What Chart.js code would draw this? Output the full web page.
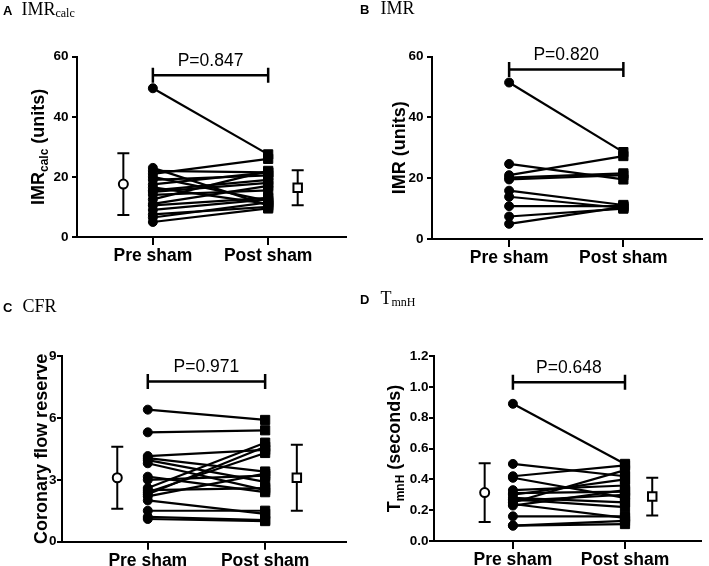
<!DOCTYPE html>
<html>
<head>
<meta charset="utf-8">
<script src="https://cdn.jsdelivr.net/npm/chart.js@4.4.1/dist/chart.umd.min.js"></script>
<style>
  body { margin: 0; background: #fff; }
  #page { position: relative; width: 709px; height: 566px; background: #fff; }
  canvas { position: absolute; }
</style>
</head>
<body>
<div id="page">
  <canvas id="cA" width="354" height="283" style="left:0;top:0"></canvas>
  <canvas id="cB" width="354" height="283" style="left:355px;top:0"></canvas>
  <canvas id="cC" width="354" height="283" style="left:0;top:283px"></canvas>
  <canvas id="cD" width="354" height="283" style="left:355px;top:283px"></canvas>
</div>
<script>
//x categories
const groups = ["Pre sham", "Post sham"];
//paired values, one entry per subject
const imrCalcPre = [49.5, 23.0, 22.0, 21.0, 20.0, 19.0, 17.5, 16.5, 15.5, 15.0, 14.0, 12.5, 11.0, 10.5, 9.0, 7.5, 6.5, 5.0];
const imrCalcPost = [27.5, 10.5, 21.5, 26.0, 12.0, 20.5, 21.5, 11.0, 19.0, 18.0, 15.5, 22.0, 17.0, 13.0, 12.5, 10.0, 11.5, 9.5];
const imrPre = [51.5, 24.7, 21.0, 20.2, 19.6, 15.9, 13.9, 10.8, 7.4, 5.0];
const imrPost = [28.6, 19.6, 27.3, 21.6, 21.0, 11.2, 10.2, 10.8, 10.0, 10.6];
const cfrPre = [6.4, 5.3, 4.15, 4.05, 3.95, 3.8, 3.15, 3.0, 2.6, 2.5, 2.4, 2.3, 2.2, 2.0, 1.5, 1.2, 1.1];
const cfrPost = [5.9, 5.4, 4.45, 3.4, 2.9, 2.5, 2.4, 3.2, 4.8, 2.6, 4.3, 4.6, 3.3, 1.35, 1.5, 1.05, 1.0];
const tmnhPre = [0.89, 0.50, 0.42, 0.41, 0.33, 0.31, 0.30, 0.28, 0.27, 0.26, 0.25, 0.24, 0.23, 0.16, 0.10, 0.10];
const tmnhPost = [0.50, 0.42, 0.49, 0.28, 0.36, 0.32, 0.40, 0.25, 0.22, 0.30, 0.46, 0.15, 0.33, 0.16, 0.11, 0.13];
//mean and SD shown beside the paired data (pre, post)
const imrCalcMean = [17.6, 16.4];
const imrCalcSD = [10.3, 5.8];
const cfrMean = [3.1, 3.1];
const cfrSD = [1.5, 1.6];
const tmnhMean = [0.314, 0.288];
const tmnhSD = [0.19, 0.123];
//P values between groups
const pLabels = ["P=0.847", "P=0.820", "P=0.971", "P=0.648"];

const SANS = "Liberation Sans, Arial, sans-serif";
const SERIF = "Liberation Serif, Times New Roman, serif";

//draw text made of pieces with different fonts (for subscripts)
function drawRich(ctx, segs, x, y, align) {
  let total = 0;
  segs.forEach(s => { ctx.font = s.font; total += ctx.measureText(s.text).width + (s.gap || 0); });
  let cur = align === "center" ? x - total / 2 : x;
  segs.forEach(s => {
    ctx.font = s.font;
    ctx.fillText(s.text, cur, y + (s.dy || 0));
    cur += ctx.measureText(s.text).width + (s.gap || 0);
  });
}

function makePanel(cfg) {
  const datasets = cfg.pre.map((v, i) => ({
    data: [{ x: 1, y: v }, { x: 2, y: cfg.post[i] }],
    showLine: true,
    borderColor: "#000",
    borderWidth: 2.2,
    backgroundColor: "#000",
    pointStyle: ["circle", "rect"],
    pointRadius: [4.5, 6.5],
    pointBorderWidth: 1,
    clip: false,
  }));
  if (cfg.mean) {
    ["circle", "rect"].forEach((st, k) => {
      datasets.push({
        data: [{ x: cfg.meanX[k], y: cfg.mean[k] }],
        sd: cfg.sd[k],
        pointStyle: st,
        pointRadius: st === "circle" ? 4.5 : 6,
        borderColor: "#000",
        borderWidth: 2,
        backgroundColor: "#fff",
        clip: false,
      });
    });
  }
  const a = cfg.area;
  const extras = {
    id: "extras",
    beforeDatasetsDraw(chart) {
      const ctx = chart.ctx, xs = chart.scales.x, ys = chart.scales.y;
      ctx.save();
      ctx.strokeStyle = "#000";
      ctx.lineWidth = 2;
      chart.data.datasets.forEach(d => {
        if (d.sd === undefined) return;
        const px = xs.getPixelForValue(d.data[0].x);
        const t = ys.getPixelForValue(d.data[0].y + d.sd);
        const b = ys.getPixelForValue(d.data[0].y - d.sd);
        ctx.beginPath();
        ctx.moveTo(px, t); ctx.lineTo(px, b);
        ctx.moveTo(px - 6, t); ctx.lineTo(px + 6, t);
        ctx.moveTo(px - 6, b); ctx.lineTo(px + 6, b);
        ctx.stroke();
      });
      ctx.restore();
    },
    afterDraw(chart) {
      const ctx = chart.ctx, xs = chart.scales.x, ys = chart.scales.y, ca = chart.chartArea;
      ctx.save();
      ctx.fillStyle = "#000";
      ctx.strokeStyle = "#000";
      //P value bracket
      const x1 = xs.getPixelForValue(1), x2 = xs.getPixelForValue(2);
      const by = ys.getPixelForValue(cfg.bracketY);
      ctx.lineWidth = 2.5;
      ctx.beginPath();
      ctx.moveTo(x1, by); ctx.lineTo(x2, by);
      ctx.moveTo(x1, by - 7.5); ctx.lineTo(x1, by + 7.5);
      ctx.moveTo(x2, by - 7.5); ctx.lineTo(x2, by + 7.5);
      ctx.stroke();
      ctx.textAlign = "left";
      ctx.textBaseline = "alphabetic";
      drawRich(ctx, [{ text: cfg.p, font: "17.5px " + SANS }], (x1 + x2) / 2, by - 9, "center");
      //panel heading
      drawRich(ctx, cfg.head, cfg.headX, cfg.headY, "left");
      //rotated y title
      ctx.translate(cfg.titleX, (ca.top + ca.bottom) / 2);
      ctx.rotate(-Math.PI / 2);
      drawRich(ctx, cfg.yTitle, 0, 6.5, "center");
      ctx.restore();
    },
  };
  new Chart(document.getElementById(cfg.id), {
    type: "scatter",
    data: { datasets },
    plugins: [extras],
    options: {
      responsive: false,
      animation: false,
      events: [],
      layout: { padding: { left: 0, top: a.top, right: cfg.w - a.right, bottom: 0 } },
      plugins: { legend: { display: false }, tooltip: { enabled: false } },
      scales: {
        x: {
          type: "linear",
          min: cfg.xMin,
          max: cfg.xMax,
          afterBuildTicks: s => { s.ticks = [{ value: 1 }, { value: 2 }]; },
          afterFit: s => { s.height = cfg.h - a.bottom; },
          ticks: {
            callback: v => groups[v - 1],
            color: "#000",
            font: { family: SANS, size: 17.5, weight: "bold" },
            padding: 1,
          },
          grid: { drawOnChartArea: false, color: "#000", lineWidth: 2, tickLength: 8 },
          border: { color: "#000", width: 2 },
        },
        y: {
          min: cfg.yMin,
          max: cfg.yMax,
          afterFit: s => { s.width = a.left; },
          ticks: {
            stepSize: cfg.step,
            callback: v => v.toFixed(cfg.dec),
            color: "#000",
            font: { family: SANS, size: 13.5, weight: "bold" },
            padding: cfg.tickPad,
          },
          grid: { drawOnChartArea: false, color: "#000", lineWidth: 2, tickLength: 5 },
          border: { color: "#000", width: 2 },
        },
      },
    },
  });
}

const bold18 = "bold 18px " + SANS, bold12 = "bold 12px " + SANS;

makePanel({
  id: "cA", w: 354, h: 283, area: { left: 77, top: 56.7, right: 350, bottom: 237 },
  xMin: 0.342, xMax: 2.675, meanX: [0.744, 2.256],
  yMin: 0, yMax: 60, step: 20, dec: 0, tickPad: 3.5,
  pre: imrCalcPre, post: imrCalcPost, mean: imrCalcMean, sd: imrCalcSD,
  bracketY: 53.8, p: pLabels[0],
  titleX: 37,
  yTitle: [{ text: "IMR", font: bold18 }, { text: "calc", font: bold12, dy: 4 }, { text: " (units)", font: bold18 }],
  headX: 3, headY: 15,
  head: [{ text: "A", font: "bold 13px " + SANS, gap: 9 }, { text: "IMR", font: "18px " + SERIF }, { text: "calc", font: "12px " + SERIF, dy: 2 }],
});
makePanel({
  id: "cB", w: 354, h: 283, area: { left: 77, top: 56.7, right: 353, bottom: 239 },
  xMin: 0.325, xMax: 2.684,
  yMin: 0, yMax: 60, step: 20, dec: 0, tickPad: 3.5,
  pre: imrPre, post: imrPost,
  bracketY: 55.8, p: pLabels[1],
  titleX: 43,
  yTitle: [{ text: "IMR (units)", font: bold18 }],
  headX: 5, headY: 14,
  head: [{ text: "B", font: "bold 13px " + SANS, gap: 11 }, { text: "IMR", font: "18px " + SERIF }],
});
makePanel({
  id: "cC", w: 354, h: 283, area: { left: 62, top: 73, right: 350, bottom: 258.7 },
  xMin: 0.269, xMax: 2.689, meanX: [0.74, 2.27],
  yMin: 0, yMax: 9, step: 3, dec: 0, tickPad: 0.5,
  pre: cfrPre, post: cfrPost, mean: cfrMean, sd: cfrSD,
  bracketY: 7.77, p: pLabels[2],
  titleX: 40,
  yTitle: [{ text: "Coronary flow reserve", font: bold18 }],
  headX: 3, headY: 29,
  head: [{ text: "C", font: "bold 13px " + SANS, gap: 10 }, { text: "CFR", font: "18px " + SERIF }],
});
makePanel({
  id: "cD", w: 354, h: 283, area: { left: 79, top: 73, right: 353, bottom: 258 },
  xMin: 0.296, xMax: 2.678, meanX: [0.748, 2.243],
  yMin: 0, yMax: 1.2, step: 0.2, dec: 1, tickPad: 0.5,
  pre: tmnhPre, post: tmnhPost, mean: tmnhMean, sd: tmnhSD,
  bracketY: 1.03, p: pLabels[3],
  titleX: 38,
  yTitle: [{ text: "T", font: bold18 }, { text: "mnH", font: bold12, dy: 4 }, { text: " (seconds)", font: bold18 }],
  headX: 5, headY: 21,
  head: [{ text: "D", font: "bold 13px " + SANS, gap: 11 }, { text: "T", font: "18px " + SERIF }, { text: "mnH", font: "12px " + SERIF, dy: 2 }],
});
</script>
</body>
</html>
